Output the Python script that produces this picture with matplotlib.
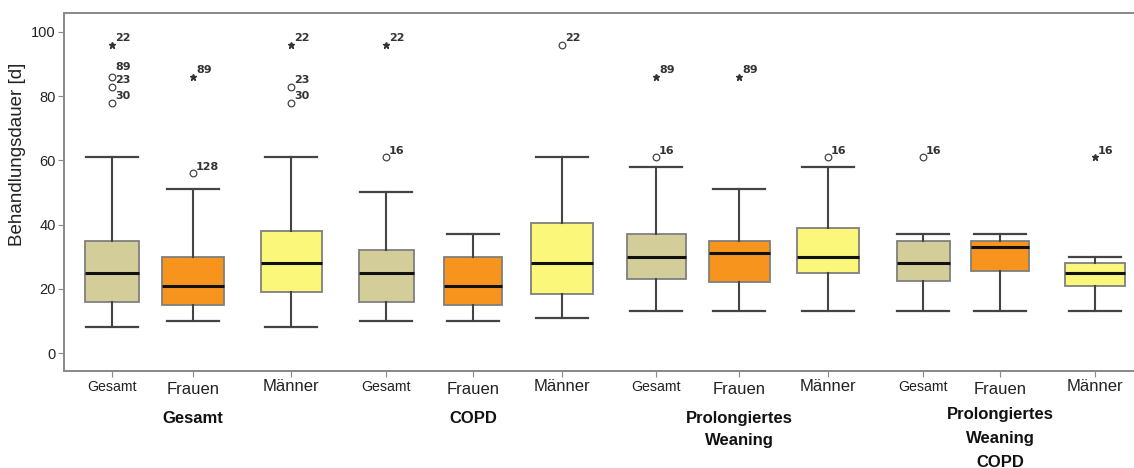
import matplotlib
matplotlib.use("Agg")
import matplotlib.pyplot as plt

# ---------------------------------------------------------------- data
groups = ["Gesamt", "COPD", "Prolongiertes\nWeaning", "Prolongiertes\nWeaning\nCOPD"]
subgroups = ["Gesamt", "Frauen", "Männer"]

whisker_low = [8, 10, 8, 10, 10, 11, 13, 13, 13, 13, 13, 13]
quartile_1 = [16, 15, 19, 16, 15, 18.5, 23, 22, 25, 22.5, 25.5, 21]
median = [25, 21, 28, 25, 21, 28, 30, 31, 30, 28, 33, 25]
quartile_3 = [35, 30, 38, 32, 30, 40.5, 37, 35, 39, 35, 35, 28]
whisker_high = [61, 51, 61, 50, 37, 61, 58, 51, 58, 37, 37, 30]

# outliers: box index, value, extreme (star) or not (circle), case number
outlier_box = [0, 0, 0, 0, 1, 1, 2, 2, 2, 3, 3, 5, 6, 6, 7, 8, 9, 11]
outlier_value = [96, 86, 83, 78, 86, 56, 96, 83, 78, 96, 61, 96, 86, 61, 86, 61, 61, 61]
outlier_extreme = [True, False, False, False, True, False, True, False, False,
                   True, False, False, True, False, True, False, False, True]
outlier_case = ["22", "89", "23", "30", "89", "128", "22", "23", "30",
                "22", "16", "22", "89", "16", "89", "16", "16", "16"]

y_label = "Behandlungsdauer [d]"

# ---------------------------------------------------------------- layout
positions = [112, 193, 291, 386, 473, 562, 656, 739, 828, 923, 1000, 1095]
box_widths = [54, 62, 61, 55, 58, 62, 59, 61, 62, 53, 58, 60]
cap_width = 52
fills = {"Gesamt": "#D3CE99", "Frauen": "#F7941E", "Männer": "#FAF77A"}
label_lift = 2.0      # case label centre above its marker (data units)
label_gap = 4.0       # minimal vertical gap between stacked case labels

plt.rcParams["font.family"] = ["Liberation Sans", "DejaVu Sans"]

fig = plt.figure(figsize=(11.34, 4.68), dpi=100)
ax = fig.add_axes([64 / 1134, 97 / 468, 1080 / 1134, 358 / 468])

stats = []
for i in range(len(median)):
    stats.append(dict(whislo=whisker_low[i], q1=quartile_1[i], med=median[i],
                      q3=quartile_3[i], whishi=whisker_high[i], fliers=[]))

bp = ax.bxp(stats, positions=positions, widths=box_widths,
            capwidths=[cap_width] * len(stats), patch_artist=True,
            showfliers=False, manage_ticks=False,
            boxprops=dict(edgecolor="#7f7f7f", linewidth=1.3),
            medianprops=dict(color="#111111", linewidth=2.2),
            whiskerprops=dict(color="#444444", linewidth=1.5),
            capprops=dict(color="#444444", linewidth=1.6))

for i, patch in enumerate(bp["boxes"]):
    patch.set_facecolor(fills[subgroups[i % 3]])

# outlier markers with case numbers; labels in one box are stacked upward
for b in sorted(set(outlier_box)):
    idx = [k for k in range(len(outlier_box)) if outlier_box[k] == b]
    idx.sort(key=lambda k: outlier_value[k])
    prev = None
    for k in idx:
        x, v = positions[b], outlier_value[k]
        if outlier_extreme[k]:
            ax.plot(x, v, marker="*", ms=5, color="#333333", mec="#333333",
                    linestyle="none", zorder=4)
        else:
            ax.plot(x, v, marker="o", ms=4.8, mfc="white", mec="#444444",
                    mew=0.9, linestyle="none", zorder=4)
        ly = v + label_lift
        if prev is not None:
            ly = max(ly, prev + label_gap)
        prev = ly
        ax.annotate(outlier_case[k], (x, ly), xytext=(2.2, 0),
                    textcoords="offset points", ha="left", va="center",
                    fontsize=8, fontweight="bold", color="#333333",
                    family=["DejaVu Sans"])

ax.set_xlim(64, 1144)
ax.set_ylim(-5.6, 105.9)
ax.set_yticks([0, 20, 40, 60, 80, 100])
ax.tick_params(axis="y", labelsize=10.5, length=4, color="#888888",
               labelcolor="#222222", pad=2)

ax.set_xticks(positions)
ax.set_xticklabels([])
ax.tick_params(axis="x", length=4, color="#888888")

xt = ax.get_xaxis_transform()
for i, x in enumerate(positions):
    name = subgroups[i % 3]
    if name == "Gesamt":
        ax.text(x, -0.026, name, transform=xt, ha="center", va="top",
                fontsize=10.2, color="#222222")
    else:
        dy = -0.03 if name == "Frauen" else -0.022
        ax.text(x, dy, name, transform=xt, ha="center", va="top",
                fontsize=12, color="#222222")

for g, label in enumerate(groups):
    x = positions[3 * g + 1]
    top = -0.112 if g < 3 else -0.1
    ax.text(x, top, label, transform=xt, ha="center", va="top", fontsize=12,
            fontweight="bold", color="#111111",
            linespacing=1.6 if g < 3 else 1.75)

ax.set_ylabel(y_label, fontsize=13.5, color="#222222")
ax.yaxis.set_label_coords(-0.035, 0.606)

for side in ("left", "bottom", "top"):
    ax.spines[side].set_color("#888888")
    ax.spines[side].set_linewidth(1.4)
ax.spines["right"].set_visible(False)

fig.savefig("out.png", dpi=100)
